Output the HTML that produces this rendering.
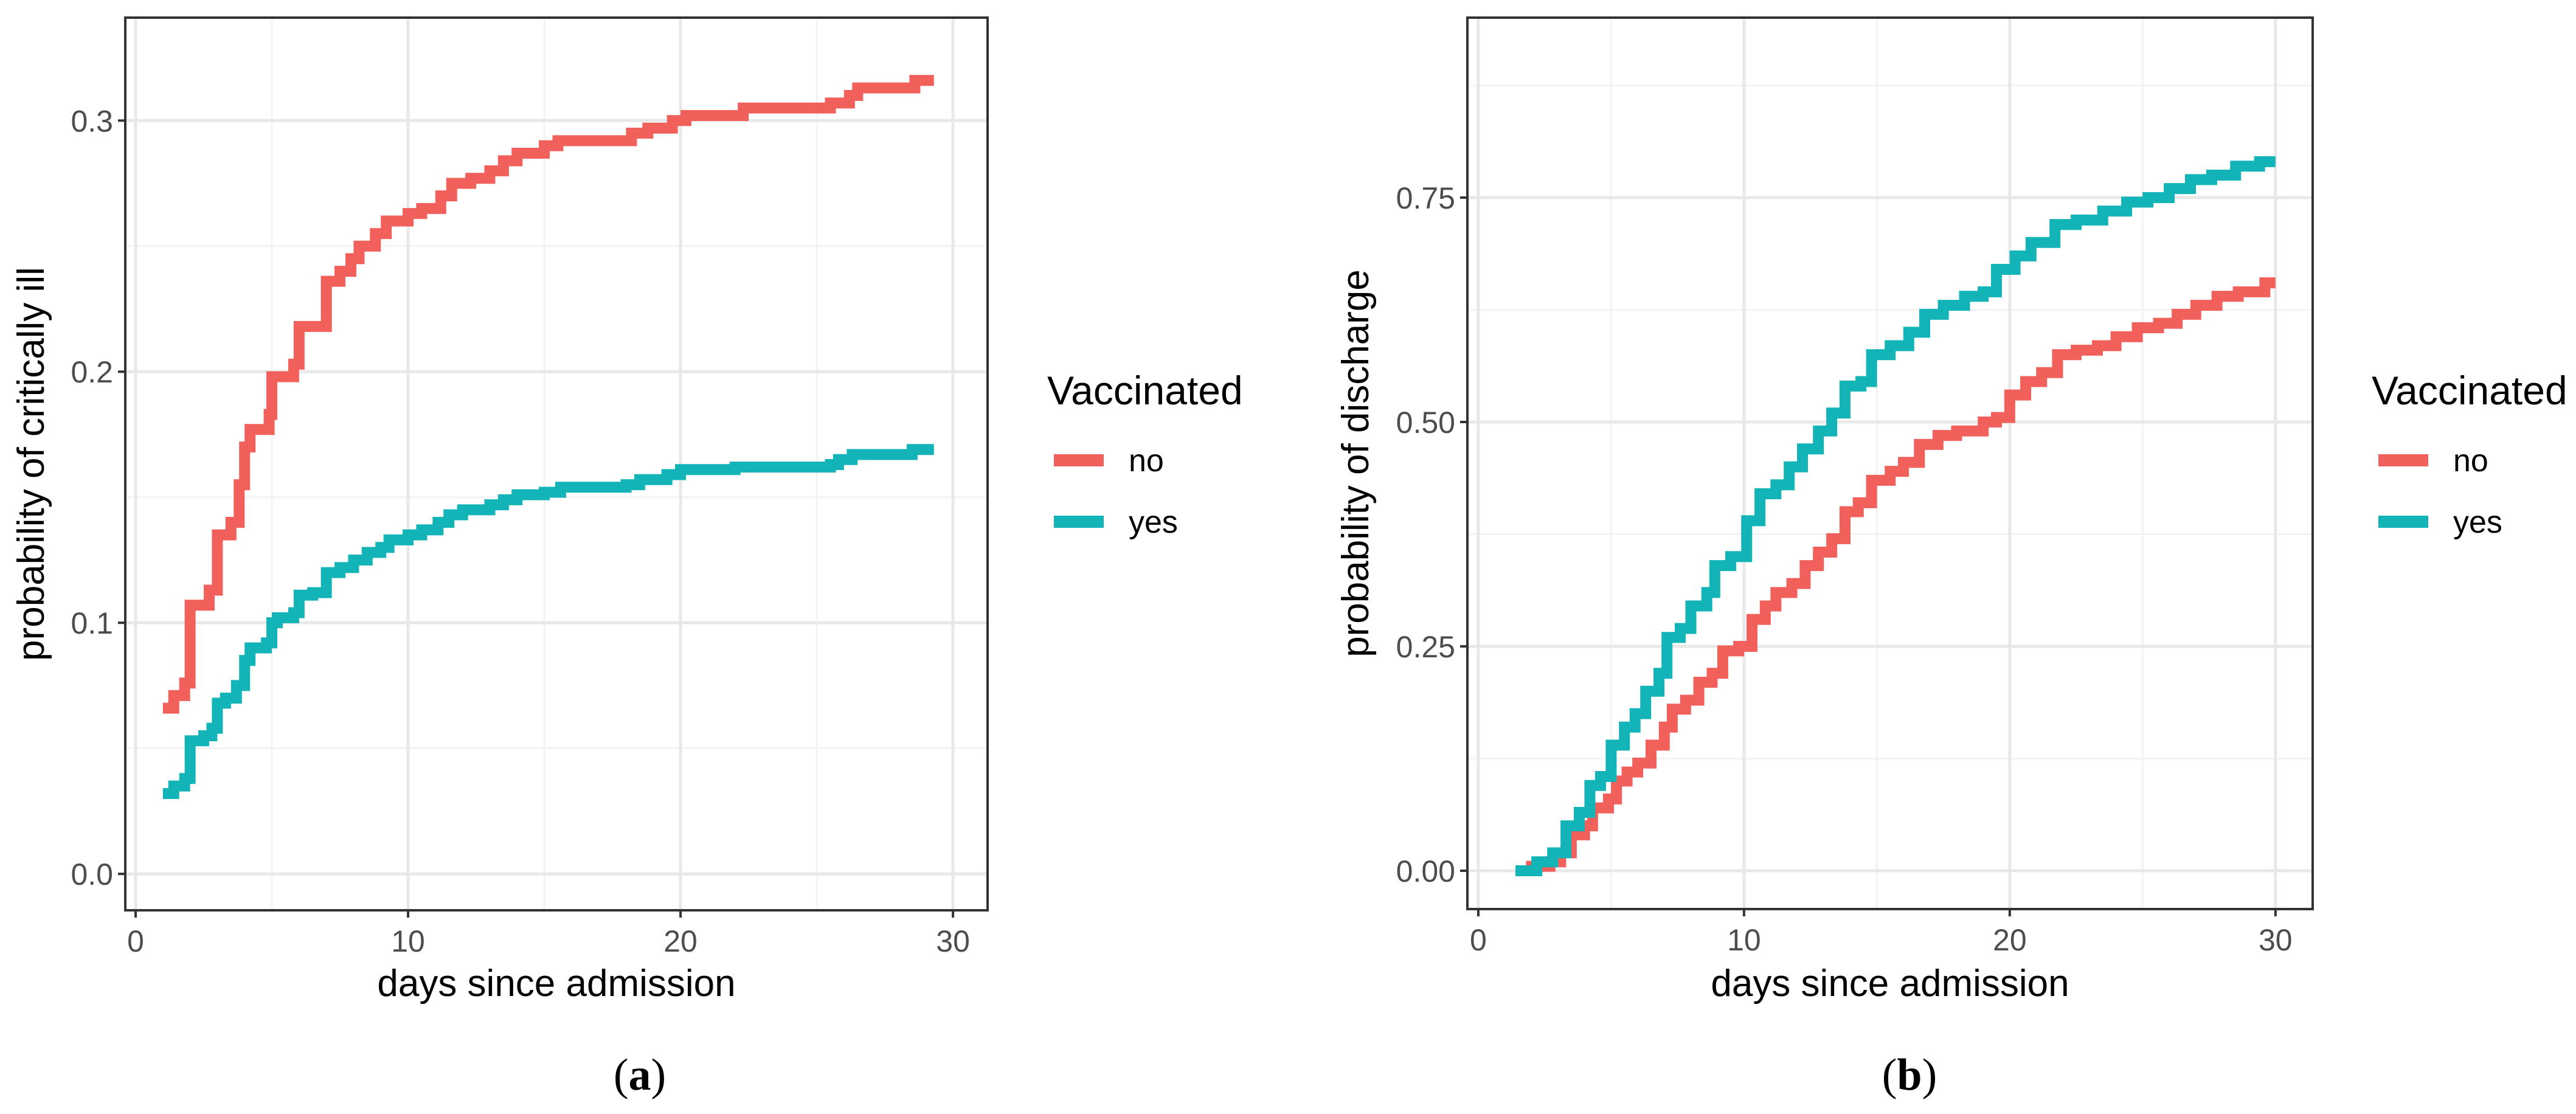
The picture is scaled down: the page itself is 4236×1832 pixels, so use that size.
<!DOCTYPE html>
<html><head><meta charset="utf-8">
<style>
html,body{margin:0;padding:0;background:#fff;}
svg{display:block;font-family:"Liberation Sans",sans-serif;}
</style></head>
<body>
<svg id="chart" width="4236" height="1832" viewBox="0 0 4236 1832"></svg>
<script>
// Panel (a) data: step points [day, probability]
const aNoX = [1,1.4,1.8,2,2.7,3,3.5,3.8,4,4.2,4.9,5,5.8,6,7,7.5,7.9,8.2,8.8,9.2,10,10.5,11.2,11.6,12.3,13,13.5,14,15,15.5,18.2,18.8,19.7,20.2,22.3,25.5,26.2,26.5,28.6,29.3];
const aNoY = [0.066,0.071,0.076,0.107,0.113,0.135,0.14,0.155,0.17,0.177,0.183,0.198,0.203,0.218,0.236,0.24,0.245,0.25,0.255,0.26,0.263,0.265,0.27,0.275,0.277,0.28,0.284,0.287,0.29,0.292,0.295,0.297,0.3,0.302,0.305,0.307,0.31,0.313,0.316,0.316];
const aYesX = [1,1.4,1.8,2,2.5,2.8,3,3.3,3.7,4,4.2,4.8,5,5.2,5.8,6,6.5,7,7.5,8,8.5,9,9.3,10,10.5,11.1,11.5,12,13,13.5,14,15,15.6,18,18.5,19.5,20,22,25.5,25.8,26.3,28.5,29.3];
const aYesY = [0.032,0.035,0.038,0.053,0.055,0.058,0.068,0.07,0.075,0.085,0.09,0.092,0.1,0.102,0.104,0.111,0.112,0.12,0.122,0.125,0.128,0.13,0.133,0.135,0.137,0.14,0.143,0.145,0.147,0.149,0.151,0.152,0.154,0.155,0.157,0.159,0.161,0.162,0.163,0.165,0.167,0.169,0.169];
// Panel (b) data
const bNoX = [1.4,2,2.7,3.1,3.5,4,4.3,4.9,5.2,5.6,6,6.5,7,7.3,7.8,8.3,8.8,9.2,9.8,10.3,10.8,11.2,11.8,12.3,12.8,13.3,13.8,14.3,14.8,15.5,16,16.6,17.3,18,19,19.5,20,20.6,21.2,21.8,22.5,23.3,24,24.8,25.6,26.3,27,27.8,28.6,29.6,30];
const bNoY = [0,0.005,0.01,0.02,0.04,0.05,0.07,0.08,0.1,0.11,0.12,0.14,0.16,0.18,0.19,0.21,0.22,0.245,0.25,0.28,0.295,0.31,0.32,0.34,0.355,0.37,0.4,0.41,0.435,0.445,0.455,0.475,0.485,0.49,0.5,0.505,0.53,0.545,0.555,0.575,0.58,0.585,0.595,0.605,0.61,0.62,0.63,0.64,0.645,0.655,0.655];
const bYesX = [1.4,2.2,2.8,3.3,3.8,4.2,4.6,5,5.5,5.9,6.3,6.8,7.1,7.6,8,8.6,8.9,9.5,10.1,10.6,11.2,11.7,12.2,12.8,13.3,13.8,14.4,14.8,15.5,16.2,16.8,17.5,18.3,19,19.5,20.2,20.8,21.7,22.5,23.5,24.4,25.2,26,26.8,27.6,28.5,29.4,30];
const bYesY = [0,0.01,0.02,0.05,0.065,0.095,0.105,0.14,0.16,0.175,0.2,0.22,0.26,0.27,0.295,0.31,0.34,0.35,0.39,0.42,0.43,0.45,0.47,0.49,0.51,0.54,0.545,0.575,0.585,0.6,0.62,0.63,0.64,0.645,0.67,0.685,0.7,0.72,0.725,0.735,0.745,0.75,0.76,0.77,0.775,0.785,0.79,0.79];
const xTicks = [0,10,20,30];
const aYTicks = [0,0.1,0.2,0.3];
const aYLabels = ["0.0","0.1","0.2","0.3"];
const bYTicks = [0,0.25,0.5,0.75];
const bYLabels = ["0.00","0.25","0.50","0.75"];
const seriesNames = ["no","yes"];

const NS="http://www.w3.org/2000/svg";
const svg=document.getElementById('chart');
function mk(tag,attrs,parent){const e=document.createElementNS(NS,tag);for(const k in attrs)e.setAttribute(k,attrs[k]);(parent||svg).appendChild(e);return e;}
const RED="#F2605B", TEAL="#13B4B8";

function panel(cfg){
  const g=mk('g',{});
  
  
  const {L,R,T,B,x0,x1,y0,y1}=cfg;
  const sx=v=>L+(v-x0)/(x1-x0)*(R-L);
  const sy=v=>B-(v-y0)/(y1-y0)*(B-T);
  cfg.minorX.forEach(v=>{const l=mk('line',{x1:sx(v),x2:sx(v),y1:T,y2:B,stroke:'#f3f3f3','stroke-width':3},g);
    });
  cfg.minorY.forEach(v=>{const l=mk('line',{x1:L,x2:R,y1:sy(v),y2:sy(v),stroke:'#f3f3f3','stroke-width':3},g);
    });
  xTicks.forEach(v=>{const l=mk('line',{x1:sx(v),x2:sx(v),y1:T,y2:B,stroke:'#e8e8e8','stroke-width':5},g);
    });
  cfg.yTicks.forEach(v=>{const l=mk('line',{x1:L,x2:R,y1:sy(v),y2:sy(v),stroke:'#e8e8e8','stroke-width':5},g);
    });
  [[cfg.noX,cfg.noY,RED,'no'],[cfg.yesX,cfg.yesY,TEAL,'yes']].forEach(([xs,ys,c,n])=>{
    let d='M'+sx(xs[0])+' '+sy(ys[0]);
    for(let i=1;i<xs.length;i++){d+=' H'+sx(xs[i])+' V'+sy(ys[i]);}
    const p=mk('path',{d:d,fill:'none',stroke:c,'stroke-width':18,'stroke-linejoin':'miter','stroke-linecap':'butt'},g);
    
    
  });
  const border=mk('rect',{x:L,y:T,width:R-L,height:B-T,fill:'none',stroke:'#333','stroke-width':4},g);
  
  
  xTicks.forEach(v=>{
    mk('line',{x1:sx(v),x2:sx(v),y1:B,y2:B+12,stroke:'#333','stroke-width':4},g);
    const t=mk('text',{x:sx(v),y:B+68,'font-size':50,fill:'#4d4d4d','text-anchor':'middle'},g);
    t.textContent=v;
    
    
  });
  cfg.yTicks.forEach((v,i)=>{
    mk('line',{x1:L-12,x2:L,y1:sy(v),y2:sy(v),stroke:'#333','stroke-width':4},g);
    const t=mk('text',{x:L-20,y:sy(v)+18,'font-size':50,fill:'#4d4d4d','text-anchor':'end'},g);
    t.textContent=cfg.yLabels[i];
    
    
  });
  const xt=mk('text',{x:(L+R)/2,y:1638,'font-size':62,fill:'#000','text-anchor':'middle'},g);
  xt.textContent='days since admission';
  
  
  const yt=mk('text',{x:0,y:0,'font-size':62,fill:'#000','text-anchor':'middle',transform:`translate(${cfg.ytX},${(T+B)/2}) rotate(-90)`},g);
  yt.textContent=cfg.ytitle;
  
  
  const lg=mk('g',{},g);
  
  
  const lt=mk('text',{x:cfg.legX,y:665,'font-size':66,fill:'#000'},lg);
  lt.textContent='Vaccinated';
  
  
  [[RED,757],[TEAL,858]].forEach(([c,y],i)=>{
    const k=mk('rect',{x:cfg.legX+11,y:y-10,width:82,height:20,fill:c},lg);
    
    
    const t=mk('text',{x:cfg.legX+134,y:y+18,'font-size':52,fill:'#000'},lg);
    t.textContent=seriesNames[i];
    
    
  });
  const cap=mk('text',{x:cfg.capX,y:1792,'font-size':74,fill:'#000','text-anchor':'middle','font-family':'"Liberation Serif",serif'},g);
  cap.innerHTML='(<tspan font-weight="bold">'+cfg.cap+'</tspan>)';
  
  
}

panel({name:'panel-a',L:206,R:1624,T:29,B:1497,x0:-0.38,x1:31.27,y0:-0.0145,y1:0.341,
  minorX:[5,15,25],minorY:[0.05,0.15,0.25],yTicks:aYTicks,yLabels:aYLabels,
  noX:aNoX,noY:aNoY,yesX:aYesX,yesY:aYesY,ytX:72,ytitle:'probability of critically ill',
  legX:1722,capX:1052,cap:'a'});
panel({name:'panel-b',L:2413,R:3803,T:29,B:1495,x0:-0.41,x1:31.4,y0:-0.0427,y1:0.9505,
  minorX:[5,15,25],minorY:[0.125,0.375,0.625,0.875],yTicks:bYTicks,yLabels:bYLabels,
  noX:bNoX,noY:bNoY,yesX:bYesX,yesY:bYesY,ytX:2250,ytitle:'probability of discharge',
  legX:3900,capX:3140,cap:'b'});
</script>
</body></html>
